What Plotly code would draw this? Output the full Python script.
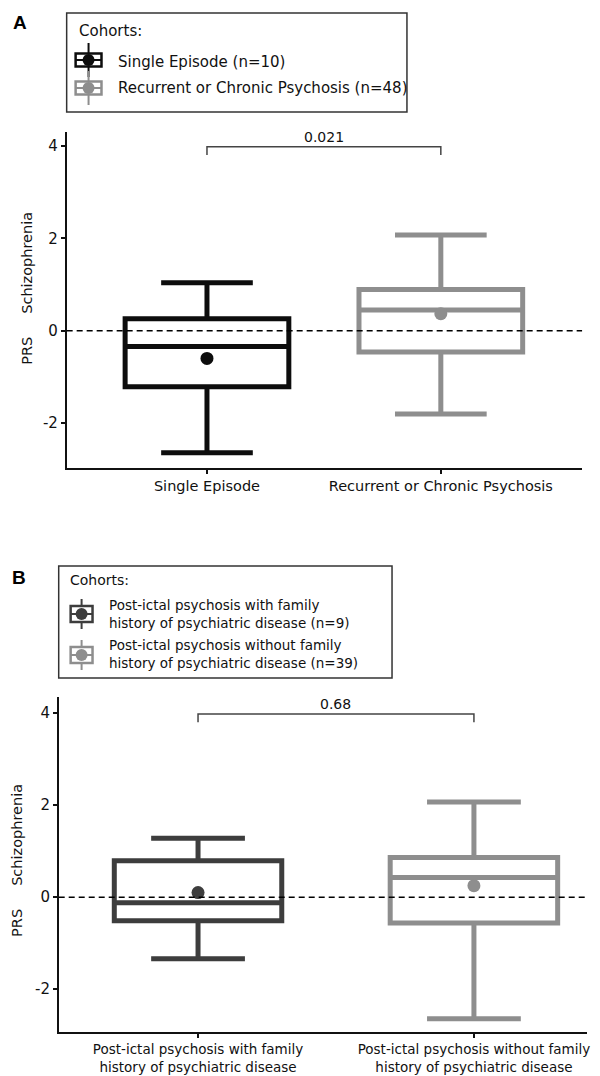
import plotly.graph_objects as go

W, H = 600, 1076

# ---------------- data ----------------
a_groups = ["Single Episode", "Recurrent or Chronic Psychosis"]
a_legend = ["Single Episode (n=10)", "Recurrent or Chronic Psychosis (n=48)"]
a_lower = [-2.64, -1.80]
a_q1 = [-1.21, -0.46]
a_median = [-0.34, 0.45]
a_q3 = [0.26, 0.89]
a_upper = [1.04, 2.07]
a_mean = [-0.60, 0.37]
a_p = "0.021"

b_groups = ["Post-ictal psychosis with family<br>history of psychiatric disease",
            "Post-ictal psychosis without family<br>history of psychiatric disease"]
b_legend = ["Post-ictal psychosis with family<br>history of psychiatric disease (n=9)",
            "Post-ictal psychosis without family<br>history of psychiatric disease (n=39)"]
b_lower = [-1.34, -2.64]
b_q1 = [-0.51, -0.56]
b_median = [-0.12, 0.43]
b_q3 = [0.79, 0.86]
b_upper = [1.28, 2.07]
b_mean = [0.10, 0.25]
b_p = "0.68"

bracket_top = 3.98
bracket_tip = 3.80
p_label_y = 4.2
y_tickvals = [-2, 0, 2, 4]
y_ticktext = ["-2", "0", "2", "4"]

a_colors = ["#0d0d0d", "#8e8e8e"]
b_colors = ["#3d3d3d", "#8e8e8e"]

FONT = "DejaVu Sans"
AX = "#111111"


def px(x):
    return x / W


def py(y):
    return 1 - y / H


fig = go.Figure()


def add_panel(xa, ya, lower, q1, med, q3, upper, mean, colors, bw):
    # mean dots first (drawn beneath box lines)
    for i in range(len(mean)):
        fig.add_trace(go.Scatter(x=[i], y=[mean[i]], mode="markers",
                                 marker=dict(color=colors[i], size=13),
                                 xaxis=xa, yaxis=ya, hoverinfo="skip", showlegend=False))
    # significance bracket
    fig.add_trace(go.Scatter(x=[0, 0, 1, 1], y=[bracket_tip, bracket_top, bracket_top, bracket_tip],
                             mode="lines", line=dict(color="#444444", width=1.5),
                             xaxis=xa, yaxis=ya, hoverinfo="skip", showlegend=False))
    for i in range(len(mean)):
        fig.add_trace(go.Box(x=[i], q1=[q1[i]], median=[med[i]], q3=[q3[i]],
                             lowerfence=[lower[i]], upperfence=[upper[i]],
                             width=bw, whiskerwidth=0.56,
                             line=dict(color=colors[i], width=5),
                             fillcolor="rgba(0,0,0,0)", boxpoints=False,
                             xaxis=xa, yaxis=ya, hoverinfo="skip", showlegend=False))


add_panel("x", "y", a_lower, a_q1, a_median, a_q3, a_upper, a_mean, a_colors, 0.70)
add_panel("x2", "y2", b_lower, b_q1, b_median, b_q3, b_upper, b_mean, b_colors, 0.607)

axis_common = dict(showline=True, linecolor=AX, linewidth=1.5, ticks="outside", ticklen=4,
                   tickcolor=AX, tickwidth=1.5, showgrid=False, zeroline=False,
                   fixedrange=True)

fig.update_layout(
    width=W, height=H, autosize=False,
    margin=dict(l=0, r=0, t=0, b=0),
    paper_bgcolor="white", plot_bgcolor="white",
    boxmode="overlay", showlegend=False,
    font=dict(family=FONT, color=AX),
    xaxis=dict(domain=[px(67), px(585)], range=[-0.6, 1.604], tickvals=[0, 1],
               ticktext=a_groups, tickfont=dict(size=14.5, family=FONT, color=AX),
               anchor="y", **axis_common),
    yaxis=dict(domain=[py(468), py(132)], range=[-2.97, 4.3], tickvals=y_tickvals,
               ticktext=y_ticktext,
               tickfont=dict(size=15, family=FONT, color=AX), anchor="x", **axis_common),
    xaxis2=dict(domain=[px(59), px(590)], range=[-0.505, 1.41], tickvals=[0, 1],
                ticktext=b_groups, tickfont=dict(size=13.5, family=FONT, color=AX),
                anchor="y2", **axis_common),
    yaxis2=dict(domain=[py(1032), py(697)], range=[-2.93, 4.35], tickvals=y_tickvals,
                ticktext=y_ticktext,
                tickfont=dict(size=15, family=FONT, color=AX), anchor="x2", **axis_common),
)

shapes = []
annotations = []

# dashed zero lines
for xr, yr in (("x domain", "y"), ("x2 domain", "y2")):
    shapes.append(dict(type="line", xref=xr, yref=yr, x0=0, x1=1, y0=0, y1=0,
                       line=dict(color="black", width=1.5, dash="6px,4px"), layer="above"))

# p-value labels
annotations.append(dict(x=0.5, y=p_label_y, xref="x", yref="y", text=a_p, showarrow=False,
                        xanchor="center", yanchor="middle",
                        font=dict(size=14, family=FONT, color=AX)))
annotations.append(dict(x=0.5, y=p_label_y, xref="x2", yref="y2", text=b_p, showarrow=False,
                        xanchor="center", yanchor="middle",
                        font=dict(size=14, family=FONT, color=AX)))

# y titles
ytitle = "PRS" + "\u00a0" * 5 + "Schizophrenia"
annotations.append(dict(x=px(27), y=py(288), xref="paper", yref="paper", text=ytitle,
                        xanchor="center", yanchor="middle",
                        textangle=-90, showarrow=False, font=dict(size=14.5, family=FONT, color=AX)))
annotations.append(dict(x=px(17), y=py(860), xref="paper", yref="paper", text=ytitle,
                        xanchor="center", yanchor="middle",
                        textangle=-90, showarrow=False, font=dict(size=14.5, family=FONT, color=AX)))

# panel letters
annotations.append(dict(x=px(20), y=py(22), xref="paper", yref="paper", text="<b>A</b>",
                        xanchor="center", yanchor="middle",
                        showarrow=False, font=dict(size=19, family="Liberation Sans", color="black")))
annotations.append(dict(x=px(19), y=py(577), xref="paper", yref="paper", text="<b>B</b>",
                        xanchor="center", yanchor="middle",
                        showarrow=False, font=dict(size=19, family="Liberation Sans", color="black")))


def rect_px(x0, y0, x1, y1, color, width, fill=None):
    d = dict(type="rect", xref="paper", yref="paper", x0=px(x0), x1=px(x1), y0=py(y1), y1=py(y0),
             line=dict(color=color, width=width), layer="above")
    if fill:
        d["fillcolor"] = fill
    return d


def line_px(x0, y0, x1, y1, color, width):
    return dict(type="line", xref="paper", yref="paper", x0=px(x0), x1=px(x1), y0=py(y0), y1=py(y1),
                line=dict(color=color, width=width), layer="above")


def legend_symbol(cx, cy, color, bw, bh, vlen, r):
    shapes.append(line_px(cx, cy - vlen / 2, cx, cy - bh / 2, color, 2))
    shapes.append(line_px(cx, cy + bh / 2, cx, cy + vlen / 2, color, 2))
    shapes.append(rect_px(cx - bw / 2, cy - bh / 2, cx + bw / 2, cy + bh / 2, color, 2.5))
    shapes.append(line_px(cx - bw / 2, cy, cx + bw / 2, cy, color, 2))
    shapes.append(dict(type="circle", xref="paper", yref="paper",
                       x0=px(cx - r), x1=px(cx + r), y0=py(cy + r), y1=py(cy - r),
                       fillcolor=color, line=dict(color=color, width=0), layer="above"))


def text_px(x, y, s, size):
    annotations.append(dict(x=px(x), y=py(y), xref="paper", yref="paper", text=s,
                            xanchor="left", yanchor="middle", align="left", showarrow=False,
                            font=dict(size=size, family=FONT, color=AX)))


# legend A
shapes.append(rect_px(67, 13, 409, 112, "#333333", 1.5))
text_px(77, 31, "Cohorts:", 15)
legend_symbol(89, 60, a_colors[0], 26, 13, 34, 6)
legend_symbol(89, 88, a_colors[1], 26, 13, 34, 6)
text_px(117, 62, a_legend[0], 15)
text_px(117, 88, a_legend[1], 15)

# legend B
shapes.append(rect_px(59, 566, 394, 678, "#333333", 1.5))
text_px(68, 580, "Cohorts:", 14)
legend_symbol(82, 614, b_colors[0], 22, 16, 30, 6)
legend_symbol(82, 655, b_colors[1], 22, 16, 30, 6)
text_px(108, 614, b_legend[0], 13.5)
text_px(108, 654, b_legend[1], 13.5)

fig.update_layout(shapes=shapes, annotations=annotations)

fig.write_html("out.html", config={"displayModeBar": False},
               post_script="document.body.style.margin='0px';")
